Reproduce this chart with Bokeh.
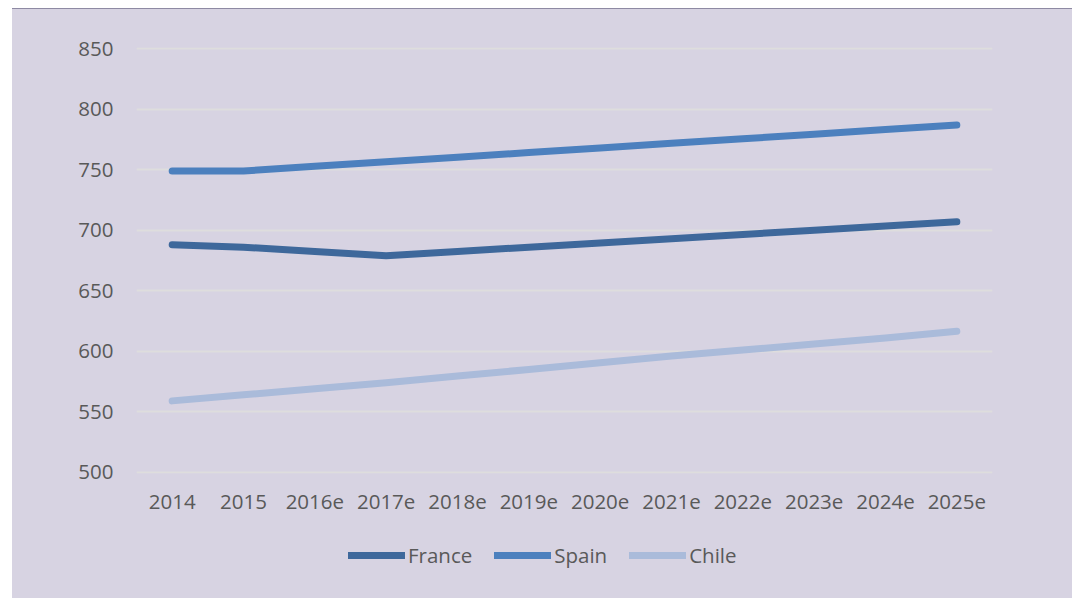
from bokeh.plotting import figure
from bokeh.models import Legend, LegendItem, FixedTicker, Range1d
from bokeh.layouts import column
from bokeh.embed import file_html
from bokeh.resources import INLINE

years = ["2014", "2015", "2016e", "2017e", "2018e", "2019e", "2020e",
         "2021e", "2022e", "2023e", "2024e", "2025e"]
france = [688, 686, 682.5, 679, 682.5, 686, 689.5, 693, 696.5, 700, 703.5, 707]
spain = [749, 749, 752.8, 756.6, 760.4, 764.2, 768, 771.8, 775.6, 779.4, 783.2, 787]
chile = [559, 564, 569, 574, 579.5, 585, 590.5, 596, 601, 606, 611, 616.5]
y_ticks = [500, 550, 600, 650, 700, 750, 800, 850]
series = [("France", france, "#3E689B"), ("Spain", spain, "#4C80BE"), ("Chile", chile, "#AABBDA")]

BG = "#D7D3E2"
TXT = "#595959"
FONT = "Open Sans"

p = figure(x_range=years, y_range=Range1d(499, 851), width=1060, height=521,
           output_backend="svg", toolbar_location=None,
           background_fill_alpha=0, border_fill_color=BG,
           min_border_left=124, min_border_right=80, min_border_top=38,
           min_border_bottom=57)
p.outline_line_color = None

for name, vals, col in series:
    p.line(years, vals, line_color=col, line_width=7, line_cap="round", line_join="round")

p.xgrid.grid_line_color = None
p.ygrid.grid_line_color = "#DEDDDD"
p.ygrid.grid_line_width = 2

p.yaxis.ticker = FixedTicker(ticks=y_ticks)
for ax in (p.xaxis[0], p.yaxis[0]):
    ax.axis_line_color = None
    ax.major_tick_line_color = None
    ax.minor_tick_line_color = None
    ax.major_label_text_font = FONT
    ax.major_label_text_font_size = "20.5px"
    ax.major_label_text_color = TXT
p.yaxis.major_label_standoff = 17
p.xaxis.major_label_standoff = 15

# legend strip below the chart (series drawn outside its visible range)
p2 = figure(x_range=years, y_range=Range1d(0, 1), width=1060, height=68,
            output_backend="svg", toolbar_location=None,
            background_fill_alpha=0, border_fill_color=BG,
            min_border=0, x_axis_type=None, y_axis_type=None)
p2.outline_line_color = None
p2.grid.visible = False
items = []
for name, vals, col in series:
    r = p2.line(years, vals, line_color=col, line_width=7, line_cap="round")
    items.append(LegendItem(label=name, renderers=[r]))

legend = Legend(items=items, orientation="horizontal", location=(212, 29),
                background_fill_alpha=0, border_line_color=None,
                glyph_width=57, glyph_height=20, label_standoff=3, spacing=22,
                label_text_font=FONT, label_text_font_size="20.5px",
                label_text_color=TXT, margin=0, padding=0)
p2.add_layout(legend, "center")

layout = column(p, p2, spacing=0)
layout.styles = {"margin-left": "12px", "margin-top": "8px",
                 "border-top": "1px solid #8E8AA3", "background-color": BG}
open("out.html", "w").write(file_html(layout, INLINE))
